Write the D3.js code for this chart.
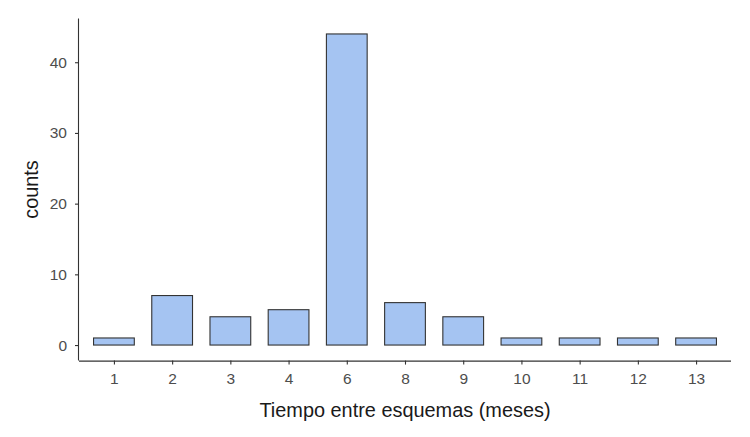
<!DOCTYPE html>
<html><head><meta charset="utf-8">
<script src="https://cdn.jsdelivr.net/npm/d3@7"></script>
<style>body{margin:0;background:#fff}</style>
</head><body>
<svg id="c" width="750" height="437"></svg>
<script>
const categories = ["1","2","3","4","6","8","9","10","11","12","13"];
const counts = [1,7,4,5,44,6,4,1,1,1,1];
const yTicks = [0,10,20,30,40];

const svg = d3.select("#c");
const L = 79, R = 731, T = 18.4, B = 360.6;
const n = categories.length;
const step = (R - L) / (n - 1 + 1.2);
const x = d3.scalePoint().domain(categories).range([L + 0.6*step, R - 0.6*step]);
const bw = step * 0.7;
const ymax = d3.max(counts);
const y = d3.scaleLinear().domain([-0.05*ymax, ymax*1.05]).range([B, T]);

const font = "Liberation Sans, Arial, sans-serif";

svg.selectAll("rect.bar").data(counts).enter().append("rect")
  .attr("x", (d,i) => x(categories[i]) - bw/2)
  .attr("width", bw)
  .attr("y", d => y(d))
  .attr("height", d => y(0) - y(d))
  .attr("fill", "#a5c4f2")
  .attr("stroke", "#333333")
  .attr("stroke-width", 1.1);

const xa = svg.append("g").attr("transform", `translate(0,${B})`)
  .call(d3.axisBottom(x).tickSize(4).tickPadding(8));
const ya = svg.append("g").attr("transform", `translate(${L},0)`)
  .call(d3.axisLeft(y).tickValues(yTicks).tickSize(4).tickPadding(8));
xa.select(".domain").attr("d", `M${L},0.5H${R}`);
ya.select(".domain").attr("d", `M-0.5,${T}V${B}`);
[xa, ya].forEach(a => {
  a.selectAll(".domain").attr("stroke", "#333").attr("stroke-width", 1.1);
  a.selectAll(".tick line").attr("stroke", "#333").attr("stroke-width", 1.1);
  a.selectAll(".tick text").attr("fill", "#4d4d4d").style("font-family", font).style("font-size", "15.5px");
});

svg.append("text").attr("x", (L+R)/2).attr("y", 417).attr("text-anchor", "middle")
  .style("font-family", font).style("font-size", "19.9px").attr("fill", "#1a1a1a")
  .text("Tiempo entre esquemas (meses)");
svg.append("text").attr("transform", `translate(38,${(T+B)/2}) rotate(-90)`).attr("text-anchor", "middle")
  .style("font-family", font).style("font-size", "19.9px").attr("fill", "#1a1a1a")
  .text("counts");
</script>
</body></html>
